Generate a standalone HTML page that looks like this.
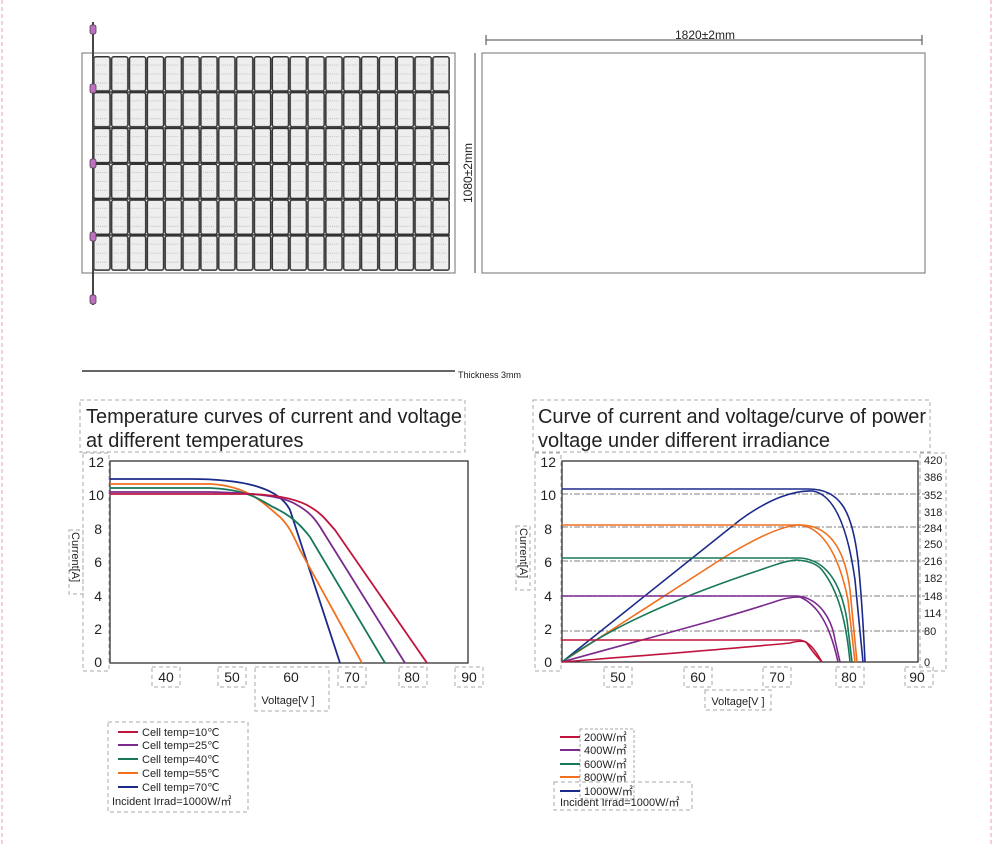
<!DOCTYPE html>
<html><head><meta charset="utf-8"><style>
html,body{margin:0;padding:0;background:#fff;}
svg{display:block;font-family:"Liberation Sans",Arial,sans-serif;}
</style></head><body>
<svg width="994" height="844" viewBox="0 0 994 844" xmlns="http://www.w3.org/2000/svg">
<defs>
<pattern id="cell" x="93" y="56" width="17.85" height="35.83" patternUnits="userSpaceOnUse">
<rect x="0.8" y="0.8" width="16.2" height="34.2" rx="2" fill="#eeeeee" stroke="#333" stroke-width="1.5"/>
<line x1="3" y1="9" x2="15" y2="9" stroke="#aaa" stroke-width="0.7" stroke-dasharray="1 1"/>
<line x1="3" y1="18" x2="15" y2="18" stroke="#aaa" stroke-width="0.7" stroke-dasharray="1 1"/>
<line x1="3" y1="27" x2="15" y2="27" stroke="#aaa" stroke-width="0.7" stroke-dasharray="1 1"/>
</pattern>
</defs>
<line x1="2" y1="0" x2="2" y2="844" stroke="#e8a0a8" stroke-dasharray="4 3"/>
<line x1="991" y1="0" x2="991" y2="844" stroke="#e8a0a8" stroke-dasharray="4 3"/>

<rect x="82" y="53" width="373" height="220" fill="#fff" stroke="#888" stroke-width="1.2"/>
<rect x="93" y="56" width="357" height="215" fill="url(#cell)"/>
<g stroke="#333" stroke-width="1.6">
<line x1="93" y1="92" x2="450" y2="92"/><line x1="93" y1="128" x2="450" y2="128"/>
<line x1="93" y1="163" x2="450" y2="163"/><line x1="93" y1="199" x2="450" y2="199"/>
<line x1="93" y1="235" x2="450" y2="235"/></g>
<line x1="93" y1="22" x2="93" y2="305" stroke="#444" stroke-width="2"/>
<g fill="#c070c0" stroke="#444" stroke-width="0.8">
<rect x="90" y="25" width="6" height="9" rx="2"/><rect x="90" y="84" width="6" height="9" rx="2"/>
<rect x="90" y="159" width="6" height="9" rx="2"/><rect x="90" y="232" width="6" height="9" rx="2"/>
<rect x="90" y="295" width="6" height="9" rx="2"/></g>

<rect x="482" y="53" width="443" height="220" fill="#fff" stroke="#888" stroke-width="1.2"/>
<line x1="486" y1="40" x2="922" y2="40" stroke="#444"/>
<line x1="486" y1="35" x2="486" y2="45" stroke="#444"/><line x1="922" y1="35" x2="922" y2="45" stroke="#444"/>
<text x="675" y="39" font-size="12" fill="#222">1820±2mm</text>
<line x1="475" y1="53" x2="475" y2="273" stroke="#444"/>
<text transform="translate(472,203) rotate(-90)" font-size="12" fill="#222">1080±2mm</text>

<line x1="82" y1="371" x2="455" y2="371" stroke="#333" stroke-width="1.5"/>
<text x="458" y="378" font-size="9" fill="#222">Thickness 3mm</text>

<!-- LEFT CHART -->
<g fill="none" stroke="#aaa" stroke-dasharray="4 3">
<rect x="80" y="400" width="385" height="52"/>
<rect x="83" y="453" width="26" height="218"/>
<rect x="69" y="530" width="14" height="64"/>
<rect x="152" y="667" width="28" height="20"/><rect x="218" y="667" width="28" height="20"/>
<rect x="255" y="667" width="74" height="44"/><rect x="338" y="667" width="28" height="20"/>
<rect x="399" y="667" width="28" height="20"/><rect x="455" y="667" width="28" height="20"/>
<rect x="108" y="722" width="140" height="90"/>
</g>
<text x="86" y="423" font-size="20" fill="#222" textLength="376">Temperature curves of current and voltage</text>
<text x="86" y="447" font-size="20" fill="#222">at different temperatures</text>
<rect x="110" y="461" width="358" height="202" fill="none" stroke="#333" stroke-width="1.3"/>
<g font-size="14" fill="#222" text-anchor="end">
<text x="104" y="467">12</text><text x="104" y="500">10</text><text x="102" y="534">8</text>
<text x="102" y="567">6</text><text x="102" y="601">4</text><text x="102" y="634">2</text><text x="102" y="667">0</text></g>
<text transform="translate(72,532) rotate(90)" font-size="11" fill="#222">Current[A]</text>
<g font-size="14" fill="#222" text-anchor="middle">
<text x="166" y="682">40</text><text x="232" y="682">50</text><text x="291" y="682">60</text>
<text x="352" y="682">70</text><text x="412" y="682">80</text><text x="469" y="682">90</text></g>
<text x="288" y="704" font-size="11" text-anchor="middle" fill="#222">Voltage[V ]</text>
<g fill="none" stroke-width="1.8">
<path d="M110 479 L190 479 C250 479 280 490 290 510 L340 663" stroke="#1c2a8a"/>
<path d="M110 484 L210 484 C250 486 265 505 280 517 C290 527 293 535 300 550 L362 663" stroke="#f07020"/>
<path d="M110 488 L210 488 C250 490 260 500 273 507 C290 515 300 524 310 537 L385 663" stroke="#17785a"/>
<path d="M110 492 L210 492 C260 493 285 497 297 505 C310 512 316 520 322 530 L405 663" stroke="#7b2a8e"/>
<path d="M110 494 L250 494 C280 495 300 500 312 508 C322 514 326 520 335 530 L427 663" stroke="#c0143c"/>
</g>
<g font-size="11" fill="#222">
<line x1="118" y1="732" x2="138" y2="732" stroke="#c0143c" stroke-width="2"/><text x="142" y="736">Cell temp=10℃</text>
<line x1="118" y1="745" x2="138" y2="745" stroke="#7b2a8e" stroke-width="2"/><text x="142" y="749">Cell temp=25℃</text>
<line x1="118" y1="759" x2="138" y2="759" stroke="#17785a" stroke-width="2"/><text x="142" y="763">Cell temp=40℃</text>
<line x1="118" y1="773" x2="138" y2="773" stroke="#f07020" stroke-width="2"/><text x="142" y="777">Cell temp=55℃</text>
<line x1="118" y1="787" x2="138" y2="787" stroke="#1c2a8a" stroke-width="2"/><text x="142" y="791">Cell temp=70℃</text>
<text x="112" y="805">Incident Irrad=1000W/㎡</text></g>

<!-- RIGHT CHART -->
<g fill="none" stroke="#aaa" stroke-dasharray="4 3">
<rect x="533" y="400" width="397" height="52"/>
<rect x="535" y="453" width="26" height="218"/>
<rect x="516" y="526" width="14" height="64"/>
<rect x="604" y="667" width="28" height="20"/><rect x="684" y="667" width="28" height="20"/>
<rect x="763" y="667" width="28" height="20"/><rect x="836" y="667" width="28" height="20"/>
<rect x="905" y="667" width="28" height="20"/><rect x="705" y="690" width="66" height="20"/>
<rect x="920" y="453" width="26" height="218"/>
<rect x="580" y="729" width="54" height="70" stroke-dasharray="3 2"/>
<rect x="554" y="782" width="138" height="28"/>
</g>
<text x="538" y="423" font-size="20" fill="#222" textLength="388">Curve of current and voltage/curve of power</text>
<text x="538" y="447" font-size="20" fill="#222">voltage under different irradiance</text>
<g stroke="#999" stroke-width="1.3" stroke-dasharray="6 2 2 2">
<line x1="562" y1="494" x2="925" y2="494"/><line x1="562" y1="527" x2="925" y2="527"/>
<line x1="562" y1="561" x2="925" y2="561"/><line x1="562" y1="596" x2="925" y2="596"/>
<line x1="562" y1="631" x2="925" y2="631"/></g>
<rect x="562" y="461" width="356" height="201" fill="none" stroke="#333" stroke-width="1.3"/>
<g font-size="14" fill="#222" text-anchor="end">
<text x="556" y="467">12</text><text x="556" y="500">10</text><text x="552" y="534">8</text>
<text x="552" y="567">6</text><text x="552" y="601">4</text><text x="552" y="634">2</text><text x="552" y="667">0</text></g>
<text transform="translate(520,528) rotate(90)" font-size="11" fill="#222">Current[A]</text>
<g font-size="11" fill="#222">
<text x="924" y="464">420</text><text x="924" y="481">386</text><text x="924" y="499">352</text>
<text x="924" y="516">318</text><text x="924" y="532">284</text><text x="924" y="548">250</text>
<text x="924" y="565">216</text><text x="924" y="582">182</text><text x="924" y="600">148</text>
<text x="924" y="617">114</text><text x="924" y="635">80</text><text x="924" y="666">0</text></g>
<g font-size="14" fill="#222" text-anchor="middle">
<text x="618" y="682">50</text><text x="698" y="682">60</text><text x="777" y="682">70</text>
<text x="849" y="682">80</text><text x="917" y="682">90</text></g>
<text x="738" y="705" font-size="11" text-anchor="middle" fill="#222">Voltage[V ]</text>
<g fill="none" stroke-width="1.6">
<path d="M562 489 L808 489 C840 489 852 510 858 560 C862 600 864 640 865 662" stroke="#1c2a8a"/>
<path d="M562 662 L740 520 C770 498 795 490 813 491 C835 495 848 530 855 580 L863 662" stroke="#1c2a8a"/>
<path d="M562 525 L800 525 C830 525 845 550 850 590 L857 662" stroke="#f07020"/>
<path d="M562 662 L720 560 C760 535 785 525 800 525 C825 528 840 560 848 600 L855 662" stroke="#f07020"/>
<path d="M562 558 L800 558 C830 560 842 590 847 620 L852 662" stroke="#17785a"/>
<path d="M562 662 C620 620 700 590 760 570 C780 563 790 560 797 560 C810 561 818 565 822 570 C838 590 846 620 850 662" stroke="#17785a"/>
<path d="M562 596 L797 596 C820 598 832 620 835 640 L840 662" stroke="#7b2a8e"/>
<path d="M562 662 C640 640 720 620 780 600 C790 597 797 597 800 597 C818 605 830 625 838 662" stroke="#7b2a8e"/>
<path d="M562 640 L800 640 C810 642 815 650 822 662" stroke="#c0143c"/>
<path d="M562 662 C650 655 740 648 790 643 C797 641 803 641 806 642 C810 648 815 655 822 662" stroke="#c0143c"/>
</g>
<g font-size="11" fill="#222">
<line x1="560" y1="737" x2="580" y2="737" stroke="#c0143c" stroke-width="2"/><text x="584" y="741">200W/㎡</text>
<line x1="560" y1="750" x2="580" y2="750" stroke="#7b2a8e" stroke-width="2"/><text x="584" y="754">400W/㎡</text>
<line x1="560" y1="764" x2="580" y2="764" stroke="#17785a" stroke-width="2"/><text x="584" y="768">600W/㎡</text>
<line x1="560" y1="777" x2="580" y2="777" stroke="#f07020" stroke-width="2"/><text x="584" y="781">800W/㎡</text>
<line x1="560" y1="791" x2="580" y2="791" stroke="#1c2a8a" stroke-width="2"/><text x="584" y="795">1000W/㎡</text>
<text x="560" y="806">Incident Irrad=1000W/㎡</text></g>
</svg>
</body></html>
